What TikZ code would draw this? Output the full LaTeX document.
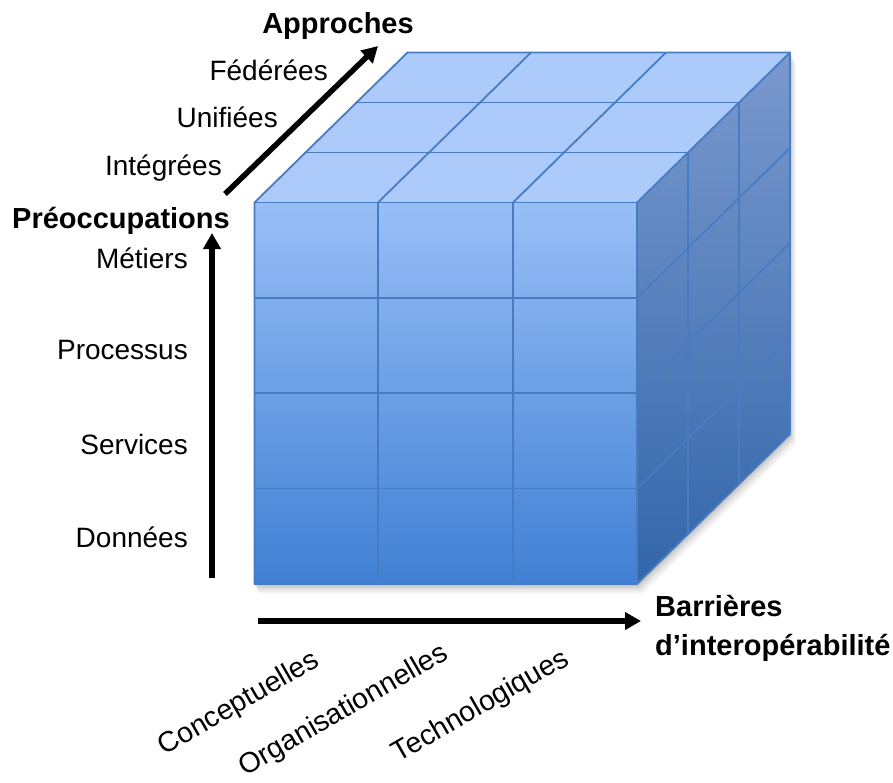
\documentclass[tikz,border=0pt]{standalone}
\usepackage{fontspec}
\setmainfont{Liberation Sans}
\usetikzlibrary{arrows.meta,calc}
\definecolor{frontTop}{RGB}{152,190,246}
\definecolor{frontBot}{RGB}{64,128,212}
\definecolor{topFace}{RGB}{172,203,250}
\definecolor{rightTop}{RGB}{122,153,206}
\definecolor{rightBot}{RGB}{50,102,170}
\definecolor{edgeCol}{RGB}{72,124,194}
\begin{document}
\begin{tikzpicture}[x=1pt,y=-1pt,
  edge/.style={draw=edgeCol,line width=1.8pt,line join=round},
  axis/.style={line width=5.5pt,-{Triangle[length=16pt,width=17pt]}},
  lab/.style={font=\fontsize{28}{30}\selectfont,inner sep=0pt},
  blab/.style={font=\bfseries\fontsize{29}{31}\selectfont,inner sep=0pt},
  rlab/.style={font=\fontsize{28.5}{30}\selectfont,inner sep=0pt,rotate=30}]
\useasboundingbox (0,0) rectangle (893,782);
% corners
\coordinate (FTL) at (254.5,202.5);
\coordinate (FTR) at (637,202.5);
\coordinate (FBL) at (254.5,584);
\coordinate (FBR) at (637,584);
\coordinate (BTL) at (407.5,52.5);
\coordinate (BTR) at (790,52.5);
\coordinate (BBR) at (790,434);
% soft shadow
\foreach \o/\a in {2/0.08,4/0.06,6/0.05,8/0.04,10/0.03}{
  \fill[black,opacity=\a] ($(FBL)+(\o*0.4,\o)$) -- ($(FBR)+(\o*0.6,\o)$) -- ($(BBR)+(\o*0.6,\o)$)
     -- ($(BTR)+(\o*0.6,\o)$) -- ($(BTL)+(\o*0.4,\o)$) -- ($(FTL)+(\o*0.4,\o)$) -- cycle;
}
% faces
\fill[topFace] (FTL) -- (FTR) -- (BTR) -- (BTL) -- cycle;
\shade[top color=rightTop,bottom color=rightBot] (FTR) -- (BTR) -- (BBR) -- (FBR) -- cycle;
\shade[top color=frontTop,bottom color=frontBot] (FTL) rectangle (FBR);
% front grid
\foreach \x in {378,513} \draw[edge] (\x,202.5) -- (\x,584);
\foreach \y in {298,393,488.5} \draw[edge] (254.5,\y) -- (637,\y);
% top grid
\foreach \k in {1,2} \draw[edge] (254.5+51*\k,202.5-50*\k) -- (637+51*\k,202.5-50*\k);
\foreach \x in {378,513} \draw[edge] (\x,202.5) -- (\x+153,52.5);
% right grid
\foreach \k in {1,2} \draw[edge] (637+51*\k,202.5-50*\k) -- (637+51*\k,584-50*\k);
\foreach \y in {298,393,488.5} \draw[edge] (637,\y) -- (790,\y-150);
% outline
\draw[edge] (FTL) -- (BTL) -- (BTR) -- (BBR) -- (FBR) -- (FBL) -- cycle;
\draw[edge] (FTL) -- (FTR) -- (FBR);
\draw[edge] (FTR) -- (BTR);
% axes
\coordinate (vTail) at (212,578);
\coordinate (vTip) at (212,233);
\coordinate (dTail) at (225,194);
\coordinate (dTip) at (378,46);
\coordinate (hTail) at (258,621);
\coordinate (hTip) at (641,621);
\draw[axis] (vTail) -- (vTip);
\draw[axis] (dTail) -- (dTip);
\draw[axis] (hTail) -- (hTip);
% labels
\node[blab,anchor=base] (appr) at (338,33) {Approches};
\node[lab,anchor=base east] (fed) at (328,80) {Fédérées};
\node[lab,anchor=base east] (uni) at (278,127) {Unifiées};
\node[lab,anchor=base east] (integ) at (222,175) {Intégrées};
\node[blab,anchor=base east] (preo) at (230,228) {Préoccupations};
\node[lab,anchor=base east] (met) at (188,268) {Métiers};
\node[lab,anchor=base east] (proc) at (188,359) {Processus};
\node[lab,anchor=base east] (serv) at (188,454) {Services};
\node[lab,anchor=base east] (donn) at (188,547) {Données};
\node[blab,anchor=base west] (barr) at (655,616) {Barrières};
\node[blab,anchor=base west] (interop) at (655,655) {d’interopérabilité};
\node[rlab] (conc) at (239,704) {Conceptuelles};
\node[rlab] (orga) at (344,711) {Organisationnelles};
\node[rlab] (tech) at (481,707) {Technologiques};
\end{tikzpicture}
\end{document}
